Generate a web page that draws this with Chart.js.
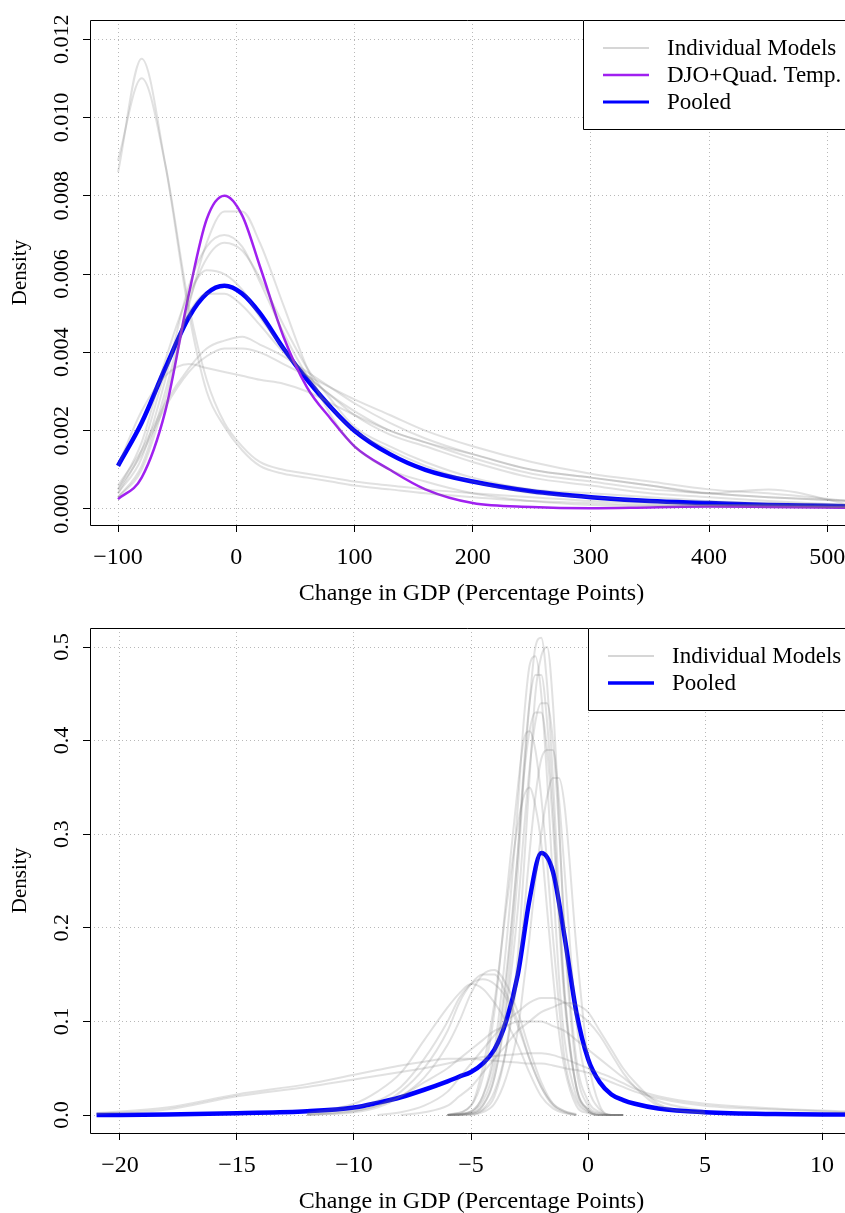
<!DOCTYPE html>
<html>
<head>
<meta charset="utf-8">
<script src="https://cdn.jsdelivr.net/npm/chart.js@4.4.7/dist/chart.umd.min.js"></script>
<style>
  body { margin: 0; background: #fff; }
  canvas { display: block; }
</style>
</head>
<body>
<canvas id="top" width="845" height="606"></canvas>
<canvas id="bottom" width="845" height="607"></canvas>
<script>
// ---- top panel data ----
const topX = [-100, -80, -60, -40, -25, -10, 5, 20, 40, 60, 80, 100, 130, 160, 200, 250, 300, 350, 400, 450, 520]
const topXTicks = [-100, 0, 100, 200, 300, 400, 500]
const topYTicks = [0, 0.002, 0.004, 0.006, 0.008, 0.010, 0.012]
const topPooled = [.0011, .0022, .0036, .0049, .0055, .0057, .0055, .0050, .0041, .0033, .0026, .0020, .0014, .0010, .0007, .00045, .0003, .0002, .00015, .0001, .00007]
const topDJO = [.00025, .0008, .0025, .0055, .0074, .0080, .0075, .0062, .0044, .0031, .0023, .0016, .0010, .0005, .00015, .00005, .00002, .00004, .00006, .00005, .00003]
const topModels = [
  [.0086, .0115, .0088, .0050, .0030, .0021, .0015, .0011, .0009, .0008, .0007, .0006, .0005, .0004, .0003, .0002, .00015, .0001, .0001, .00008, .00005],
  [.0089, .0110, .0088, .0052, .0033, .0022, .0016, .0012, .0010, .0009, .0008, .0007, .0006, .0005, .0004, .0003, .0002, .00015, .0001, .0001, .00005],
  [.0003, .0010, .0028, .0052, .0068, .0076, .0076, .0068, .0052, .0036, .0024, .0016, .0010, .0007, .0004, .0002, .0001, .00008, .00006, .00005, .00003],
  [.0004, .0013, .0033, .0057, .0067, .0070, .0067, .0058, .0045, .0034, .0026, .0020, .0015, .0011, .0007, .0004, .0003, .0002, .0001, .0001, .00005],
  [.0003, .0011, .0030, .0053, .0064, .0068, .0066, .0059, .0047, .0036, .0028, .0021, .0016, .0012, .0008, .0005, .0004, .0003, .0002, .00015, .0001],
  [.0005, .0017, .0038, .0055, .0061, .0060, .0056, .0049, .0041, .0034, .0029, .0024, .0019, .0016, .0012, .0008, .0006, .0004, .0003, .0002, .0001],
  [.0004, .0015, .0035, .0050, .0055, .0055, .0052, .0047, .0040, .0034, .0029, .0025, .0020, .0017, .0013, .0009, .0007, .0005, .0004, .0003, .0002],
  [.0006, .0015, .0027, .0036, .0041, .0043, .0044, .0042, .0039, .0035, .0031, .0027, .0022, .0018, .0014, .0010, .0008, .0006, .0004, .0003, .0002],
  [.0011, .0025, .0034, .0037, .0036, .0035, .0034, .0033, .0032, .0030, .0027, .0024, .0020, .0017, .0014, .0010, .0008, .0006, .0004, .0005, .0001],
  [.0005, .0014, .0026, .0035, .0039, .0041, .0041, .0040, .0037, .0034, .0031, .0028, .0024, .0020, .0016, .0012, .0009, .0007, .0005, .0004, .0002]
]

// ---- bottom panel data ----
const botX = [-21, -18, -15, -12, -10, -9, -8, -7, -6, -5.5, -5, -4.5, -4, -3.5, -3, -2.5, -2, -1.5, -1, -0.5, 0, 0.5, 1, 1.5, 2, 3, 5, 8, 11]
const narrowX = [-6, -5, -4.5, -4, -3.5, -3, -2.75, -2.5, -2.25, -2, -1.75, -1.5, -1.25, -1, -0.5, 0, 0.5, 1, 1.5]
const botXTicks = [-20, -15, -10, -5, 0, 5, 10]
const botYTicks = [0, 0.1, 0.2, 0.3, 0.4, 0.5]
const botPooled = [0, .0005, .002, .004, .008, .013, .019, .027, .036, .041, .046, .055, .07, .10, .15, .23, .28, .26, .19, .11, .06, .035, .022, .016, .012, .007, .003, .001, .0005]
const narrowModels = [
  [0, .002, .01, .04, .12, .26, .36, .44, .50, .51, .46, .36, .24, .13, .03, .005, 0, 0, 0],
  [0, .004, .02, .07, .18, .33, .42, .48, .49, .45, .36, .25, .15, .08, .02, .004, 0, 0, 0],
  [0, .001, .005, .02, .07, .17, .26, .36, .45, .49, .50, .44, .32, .19, .05, .01, .002, 0, 0],
  [0, .003, .015, .05, .14, .28, .37, .44, .47, .47, .42, .33, .22, .13, .03, .006, 0, 0, 0],
  [0, .002, .01, .04, .11, .22, .30, .37, .42, .44, .44, .40, .31, .20, .06, .015, .003, 0, 0],
  [0, .01, .04, .11, .23, .35, .40, .41, .39, .34, .27, .19, .12, .06, .015, .003, 0, 0, 0],
  [0, .001, .006, .025, .07, .15, .21, .28, .34, .38, .39, .39, .34, .26, .10, .03, .006, 0, 0],
  [0, .004, .02, .06, .15, .28, .36, .41, .43, .43, .39, .31, .21, .12, .03, .006, .001, 0, 0],
  [0, 0, .003, .012, .04, .09, .14, .19, .25, .30, .34, .36, .36, .33, .18, .06, .01, 0, 0],
  [0, .01, .05, .12, .22, .31, .34, .35, .33, .29, .22, .15, .09, .05, .01, .002, 0, 0, 0]
]
const N = null
const wideModels = [
  [N, N, N, 0, .005, .01, .025, .05, .09, .12, .14, .15, .15, .13, .10, .06, .03, .01, .003, 0, N, N, N, N, N, N, N, N, N],
  [N, N, N, 0, .003, .008, .02, .04, .075, .10, .13, .15, .155, .14, .11, .07, .035, .012, .004, 0, N, N, N, N, N, N, N, N, N],
  [N, N, N, .002, .012, .025, .045, .08, .115, .13, .14, .135, .12, .10, .075, .045, .02, .007, .002, 0, N, N, N, N, N, N, N, N, N],
  [N, N, N, .001, .008, .015, .03, .06, .10, .125, .14, .145, .14, .125, .095, .06, .03, .012, .004, .001, N, N, N, N, N, N, N, N, N],
  [N, N, N, N, N, N, 0, .003, .01, .02, .03, .045, .06, .075, .09, .10, .11, .115, .12, .118, .11, .09, .07, .05, .035, .012, .002, N, N],
  [N, N, N, N, N, 0, .003, .01, .025, .04, .055, .07, .085, .10, .11, .12, .125, .125, .12, .11, .10, .085, .065, .045, .03, .01, .001, N, N],
  [N, N, N, 0, .004, .01, .02, .035, .05, .06, .07, .08, .09, .095, .10, .10, .10, .095, .09, .08, .07, .06, .05, .04, .03, .015, .004, N, N],
  [.002, .008, .022, .033, .043, .048, .053, .057, .06, .06, .06, .059, .058, .057, .056, .055, .055, .053, .05, .048, .045, .04, .035, .03, .025, .018, .01, .006, .003],
  [.001, .006, .02, .03, .038, .042, .046, .05, .055, .058, .06, .062, .063, .064, .065, .066, .066, .064, .06, .055, .05, .045, .04, .034, .028, .02, .012, .007, .004]
]

const FONT = '"Liberation Serif", "DejaVu Serif", serif'
const GREY = "rgba(120, 120, 120, 0.22)"
const minus = v => String(v).replace("-", "\u2212")

function points(xs, ys) {
  return xs.map((x, i) => ys[i] == null ? null : { x, y: ys[i] }).filter(p => p)
}

function line(xs, ys, color, width) {
  return {
    data: points(xs, ys),
    borderColor: color,
    borderWidth: width,
    pointRadius: 0,
    fill: false,
    cubicInterpolationMode: "monotone"
  }
}

// R-style frame, rotated y labels, x labels, titles and legend
function rFrame(opts) {
  return {
    id: "rFrame",
    afterDraw(chart) {
      const { ctx, chartArea: a, scales } = chart
      ctx.save()
      ctx.strokeStyle = "#000"
      ctx.lineWidth = 1
      ctx.beginPath()
      ctx.moveTo(845, a.top + 0.5)
      ctx.lineTo(a.left + 0.5, a.top + 0.5)
      ctx.lineTo(a.left + 0.5, a.bottom + 0.5)
      ctx.lineTo(845, a.bottom + 0.5)
      ctx.stroke()

      ctx.fillStyle = "#000"
      ctx.font = "24px " + FONT
      ctx.textAlign = "center"
      ctx.textBaseline = "middle"
      opts.xTicks.forEach(v => {
        ctx.fillText(minus(v), scales.x.getPixelForValue(v), a.bottom + 33)
      })
      ctx.font = "22px " + FONT
      opts.yTicks.forEach(v => {
        ctx.save()
        ctx.translate(a.left - 28, scales.y.getPixelForValue(v))
        ctx.rotate(-Math.PI / 2)
        ctx.fillText(v.toFixed(opts.yDigits), 0, 0)
        ctx.restore()
      })
      ctx.font = "24px " + FONT
      ctx.fillText("Change in GDP (Percentage Points)", (a.left + 845) / 2 + 4, a.bottom + 69)
      ctx.font = "21px " + FONT
      ctx.save()
      ctx.translate(20, (a.top + a.bottom) / 2)
      ctx.rotate(-Math.PI / 2)
      ctx.fillText("Density", 0, 0)
      ctx.restore()

      // legend
      const lx = opts.legendX, ly = a.top
      const h = opts.legend.length * 27 + 28
      ctx.fillStyle = "#fff"
      ctx.fillRect(lx, ly, 845 - lx, h)
      ctx.beginPath()
      ctx.moveTo(845, ly + 0.5)
      ctx.lineTo(lx + 0.5, ly + 0.5)
      ctx.lineTo(lx + 0.5, ly + h + 0.5)
      ctx.lineTo(845, ly + h + 0.5)
      ctx.stroke()
      ctx.textAlign = "left"
      ctx.font = "23px " + FONT
      opts.legend.forEach((item, i) => {
        const y = ly + 28 + i * 27
        ctx.strokeStyle = item.color
        ctx.lineWidth = item.width
        ctx.beginPath()
        ctx.moveTo(lx + 20, y)
        ctx.lineTo(lx + 66, y)
        ctx.stroke()
        ctx.fillStyle = "#000"
        ctx.fillText(item.label, lx + 84, y + 1)
      })
      ctx.restore()
    }
  }
}

function scalesFor(xmin, xmax, xstep, ymin, ymax, ystep, bottomH) {
  const grid = {
    color: "#b8b8b8",
    lineWidth: 1,
    tickLength: 7,
    tickColor: "#000",
    tickBorderDash: [],
    tickWidth: 1
  }
  const border = { display: false, dash: [1, 3] }
  return {
    x: {
      type: "linear", min: xmin, max: xmax,
      ticks: { display: false, stepSize: xstep, includeBounds: false },
      grid, border,
      afterFit: s => { s.height = bottomH }
    },
    y: {
      type: "linear", min: ymin, max: ymax,
      ticks: { display: false, stepSize: ystep, includeBounds: false },
      grid, border,
      afterFit: s => { s.width = 90 }
    }
  }
}

const baseOptions = {
  responsive: false,
  animation: false,
  devicePixelRatio: 1,
  plugins: { legend: { display: false }, tooltip: { enabled: false } }
}

new Chart(document.getElementById("top"), {
  type: "line",
  data: {
    datasets: [
      ...topModels.map(ys => line(topX, ys, GREY, 2)),
      line(topX, topDJO, "#a020f0", 2.5),
      line(topX, topPooled, "#0000ff", 4.5)
    ]
  },
  options: {
    ...baseOptions,
    layout: { padding: { top: 20, right: 0, left: 0, bottom: 0 } },
    scales: scalesFor(-123.7, 515, 100, -0.00041, 0.01249, 0.002, 81)
  },
  plugins: [rFrame({
    xTicks: topXTicks, yTicks: topYTicks, yDigits: 3, legendX: 583,
    legend: [
      { label: "Individual Models", color: "rgba(120,120,120,0.3)", width: 2 },
      { label: "DJO+Quad. Temp.", color: "#a020f0", width: 2.5 },
      { label: "Pooled", color: "#0000ff", width: 3 }
    ]
  })]
})

new Chart(document.getElementById("bottom"), {
  type: "line",
  data: {
    datasets: [
      ...wideModels.map(ys => line(botX, ys, GREY, 2)),
      ...narrowModels.map(ys => line(narrowX, ys, GREY, 2)),
      line(botX, botPooled, "#0000ff", 4.5)
    ]
  },
  options: {
    ...baseOptions,
    layout: { padding: { top: 22, right: 0, left: 0, bottom: 0 } },
    scales: scalesFor(-21.28, 10.98, 5, -0.0192, 0.5203, 0.1, 80)
  },
  plugins: [rFrame({
    xTicks: botXTicks, yTicks: botYTicks, yDigits: 1, legendX: 588,
    legend: [
      { label: "Individual Models", color: "rgba(120,120,120,0.3)", width: 2 },
      { label: "Pooled", color: "#0000ff", width: 3.5 }
    ]
  })]
})
</script>
</body>
</html>
